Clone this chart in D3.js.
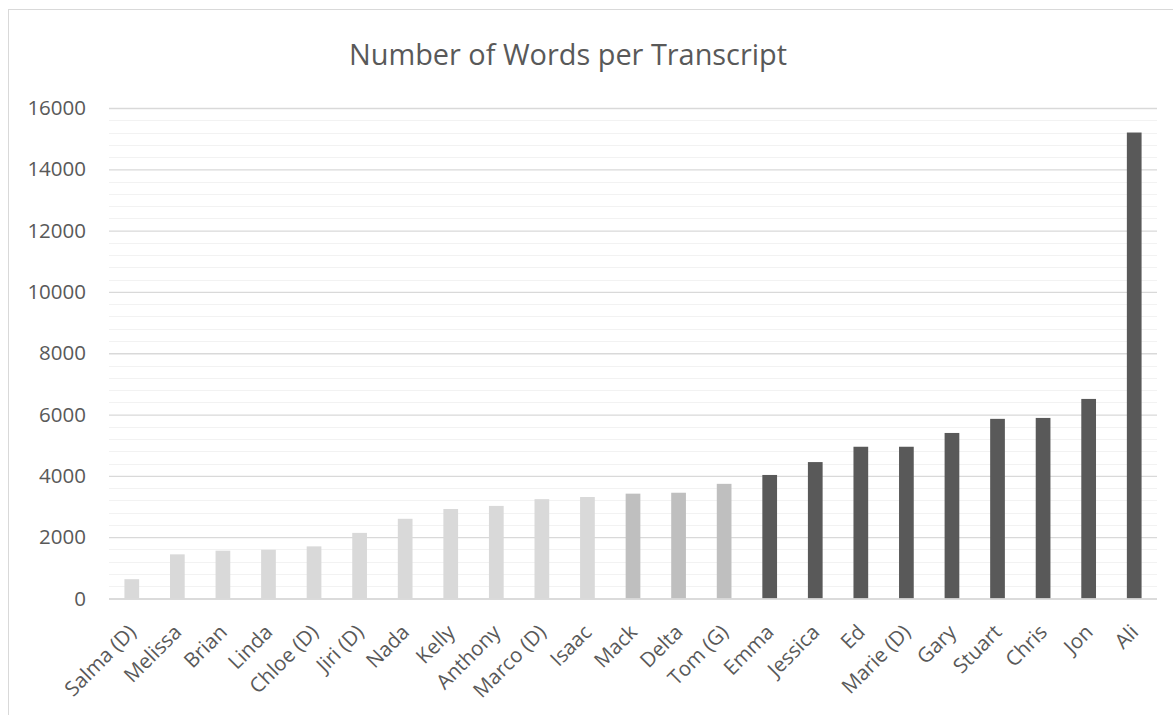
<!DOCTYPE html>
<html>
<head>
<meta charset="utf-8">
<script src="https://cdn.jsdelivr.net/npm/d3@7/dist/d3.min.js"></script>
<style>
  html, body { margin: 0; padding: 0; background: #fff; }
  svg { display: block; font-family: "Open Sans", "Noto Sans", sans-serif; }
</style>
</head>
<body>
<svg id="chart" width="1173" height="715"></svg>
<script>
// Transcript word counts, sorted ascending
const names = ["Salma (D)", "Melissa", "Brian", "Linda", "Chloe (D)", "Jiri (D)", "Nada", "Kelly",
  "Anthony", "Marco (D)", "Isaac", "Mack", "Delta", "Tom (G)", "Emma", "Jessica", "Ed",
  "Marie (D)", "Gary", "Stuart", "Chris", "Jon", "Ali"];
const words = [630, 1440, 1560, 1590, 1700, 2140, 2600, 2920, 3020, 3240, 3310, 3420, 3450,
  3740, 4030, 4450, 4950, 4950, 5400, 5860, 5890, 6510, 15200];
const groups = ["light", "light", "light", "light", "light", "light", "light", "light", "light",
  "light", "light", "mid", "mid", "mid", "dark", "dark", "dark", "dark", "dark", "dark",
  "dark", "dark", "dark"];
const yTicks = [0, 2000, 4000, 6000, 8000, 10000, 12000, 14000, 16000];
const title = "Number of Words per Transcript";

const fills = { light: "#d9d9d9", mid: "#bfbfbf", dark: "#595959" };
const data = names.map((n, i) => ({ name: n, value: words[i], group: groups[i] }));

const svg = d3.select("#chart");
const plot = { left: 109, right: 1157, top: 108, bottom: 598.5 };

// chart frame
svg.append("rect")
  .attr("x", 8.5).attr("y", 9.5)
  .attr("width", 1300).attr("height", 900)
  .attr("fill", "#fff").attr("stroke", "#d9d9d9").attr("stroke-width", 1);

const x = d3.scaleBand()
  .domain(names)
  .range([plot.left, plot.right])
  .paddingInner(0.677)
  .paddingOuter(0.3385);

const y = d3.scaleLinear().domain([0, 16000]).range([plot.bottom, plot.top]);

// minor gridlines every 400
const minor = d3.range(400, 16000, 400).filter(v => v % 2000 !== 0);
svg.append("g").selectAll("line").data(minor).join("line")
  .attr("x1", plot.left).attr("x2", plot.right)
  .attr("y1", d => Math.round(y(d)) + 0.5).attr("y2", d => Math.round(y(d)) + 0.5)
  .attr("stroke", "#f2f2f2").attr("stroke-width", 1.2);

// major gridlines + value labels
const yAxis = d3.axisLeft(y).tickValues(yTicks).tickSize(-(plot.right - plot.left)).tickPadding(23).tickFormat(d3.format("d"));
const gy = svg.append("g").attr("transform", `translate(${plot.left},0)`).call(yAxis);
gy.select(".domain").remove();
gy.selectAll(".tick line").attr("stroke", "#d9d9d9").attr("stroke-width", 1.3);
gy.selectAll(".tick text")
  .attr("fill", "#595959").attr("font-size", 20.5)
  .attr("font-family", "'Open Sans', sans-serif");

// bars
svg.append("g").selectAll("rect").data(data).join("rect")
  .attr("x", d => x(d.name))
  .attr("width", x.bandwidth())
  .attr("y", d => y(d.value))
  .attr("height", d => plot.bottom - y(d.value))
  .attr("fill", d => fills[d.group]);

// baseline
svg.append("line")
  .attr("x1", plot.left).attr("x2", plot.right)
  .attr("y1", plot.bottom + 0.5).attr("y2", plot.bottom + 0.5)
  .attr("stroke", "#d9d9d9").attr("stroke-width", 1.5);

// category labels, rotated 45 degrees, text ends at the tick
const xAxis = d3.axisBottom(x).tickSize(0).tickPadding(0);
const gx = svg.append("g").attr("transform", `translate(0,${plot.bottom})`).call(xAxis);
gx.select(".domain").remove();
gx.selectAll(".tick text")
  .attr("fill", "#595959").attr("font-size", 20.5)
  .attr("font-family", "'Open Sans', sans-serif")
  .attr("text-anchor", "end")
  .attr("x", 0).attr("y", 0)
  .attr("dy", "0.72em")
  .attr("transform", "translate(-5,24.5) rotate(-45)");

// title
svg.append("text")
  .attr("x", 568).attr("y", 65)
  .attr("text-anchor", "middle")
  .attr("fill", "#595959")
  .attr("font-size", 30)
  .attr("textLength", 438)
  .attr("lengthAdjust", "spacingAndGlyphs")
  .text(title);
</script>
</body>
</html>
